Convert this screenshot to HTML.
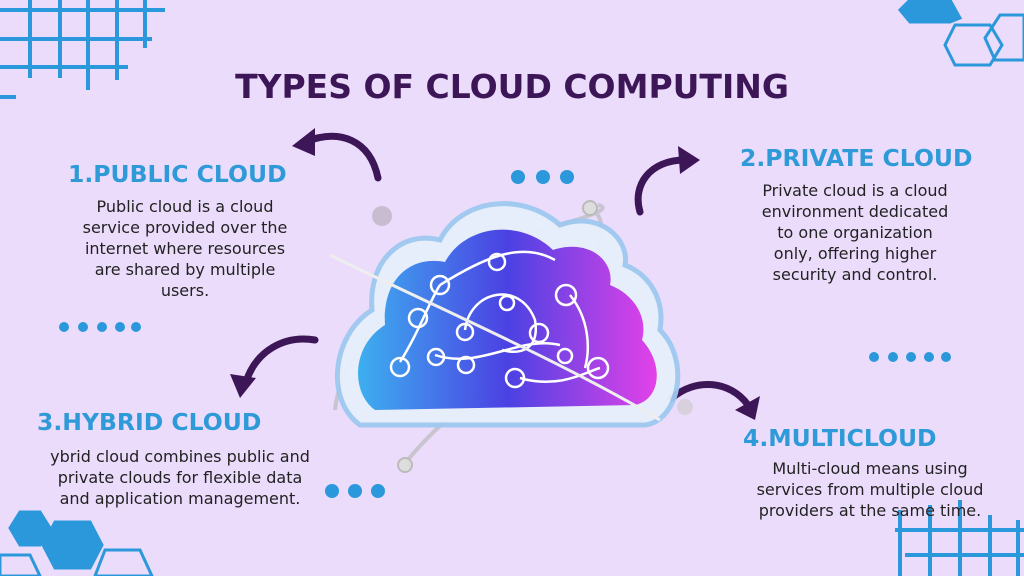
<!DOCTYPE html>
<html><head><meta charset="utf-8"><style>
body{margin:0;width:1024px;height:576px;overflow:hidden;background:#ecdcfc;font-family:"Liberation Sans",sans-serif;position:relative}
h1{position:absolute;margin:0;left:0;width:1024px;top:67px;text-align:center;font-size:33px;color:#3d1657;letter-spacing:0px;font-weight:bold;font-family:"DejaVu Sans",sans-serif}
.h{position:absolute;font-size:23.5px;font-weight:bold;color:#2f9ad8;white-space:nowrap;font-family:"DejaVu Sans",sans-serif}
.p{position:absolute;font-size:16px;line-height:21px;color:#222;text-align:center;white-space:nowrap;font-family:"DejaVu Sans",sans-serif}
</style></head><body>
<svg width="1024" height="576" style="position:absolute;left:0;top:0">
<defs>
<linearGradient id="g" x1="0" x2="1"><stop offset="0" stop-color="#2aa8ee"/><stop offset="0.5" stop-color="#3a2ee0"/><stop offset="1" stop-color="#e22fe6"/></linearGradient>
</defs>
<g stroke="#2a98da" stroke-width="4" fill="none">
<path d="M0 10H165M0 39H152M0 67H128M0 97H16M30 0V78M60 0V78M88 0V90M117 0V80M145 0V48"/>
<path d="M900 576V510M930 576V505M960 576V500M990 576V515M1018 576V520M895 530H1024M905 555H1024"/>
</g>
<g fill="#2a98da" stroke="#2a98da" stroke-width="3">
<polygon points="910,0 950,0 960,18 950,22 910,22 900,10"/>
<polygon points="1000,15 1024,15 1024,60 995,60 985,38" fill="#ecdcfc"/>
<polygon points="955,25 990,25 1002,45 990,65 955,65 945,45" fill="none"/>
<polygon points="20,512 40,512 50,528 40,545 20,545 10,528"/>
<polygon points="55,522 90,522 102,545 90,568 55,568 43,545"/>
<polygon points="105,550 140,550 152,576 95,576" fill="none"/>
<polygon points="0,555 30,555 40,576 0,576" fill="none"/>
</g>
<g fill="#2a98da">
<circle cx="518" cy="177" r="7"/><circle cx="543" cy="177" r="7"/><circle cx="567" cy="177" r="7"/>
<circle cx="64" cy="327" r="5"/><circle cx="83" cy="327" r="5"/><circle cx="102" cy="327" r="5"/><circle cx="120" cy="327" r="5"/><circle cx="136" cy="327" r="5"/>
<circle cx="874" cy="357" r="5"/><circle cx="893" cy="357" r="5"/><circle cx="911" cy="357" r="5"/><circle cx="929" cy="357" r="5"/><circle cx="946" cy="357" r="5"/>
<circle cx="332" cy="491" r="7"/><circle cx="355" cy="491" r="7"/><circle cx="378" cy="491" r="7"/>
</g>
<g fill="none" stroke="#3d1657" stroke-width="7" stroke-linecap="round">
<path d="M378 178C370 140 340 128 305 142"/><path d="M640 212C632 185 650 160 685 160"/>
<path d="M315 340C285 335 255 350 245 385"/><path d="M672 398C695 378 730 380 748 405"/>
</g>
<g fill="#3d1657">
<polygon points="292,146 315,128 315,156"/><polygon points="700,160 678,146 680,174"/>
<polygon points="240,398 230,374 256,378"/><polygon points="755,420 735,410 760,396"/>
</g>
<path d="M590 208C630 230 560 330 470 400C420 440 400 470 405 465" fill="none" stroke="#c8c4d0" stroke-width="4"/>
<path d="M335 410C340 350 420 260 500 240C560 225 620 210 598 205" fill="none" stroke="#c8c4d0" stroke-width="4"/>
<path d="M360 425C325 400 332 335 372 310C368 262 400 230 440 240C460 200 520 190 560 225C600 210 630 240 625 265C650 275 665 300 660 330C690 360 680 420 645 425Z" fill="#e6f0fb" stroke="#9fc8ef" stroke-width="5" opacity="0.95"/>
<path d="M375 410C350 392 352 345 385 325C382 280 410 255 445 262C465 225 520 218 553 250C590 238 615 262 610 285C635 295 648 318 642 340C665 365 660 400 635 405Z" fill="url(#g)" opacity="0.9"/>
<g fill="none" stroke="#fff" stroke-width="2.5">
<path d="M400 362C420 330 430 300 440 285M440 285C480 260 520 240 555 260M465 330C470 290 520 280 535 320C540 350 520 355 502 350M435 355C480 370 520 335 560 345M520 378C560 390 590 370 600 368M570 295C590 320 590 350 585 368"/>
<path d="M330 255C420 300 560 360 660 420" stroke="#eee" stroke-width="3"/>
</g>
<g fill="none" stroke="#fff" stroke-width="2.5">
<circle cx="400" cy="367" r="9"/><circle cx="418" cy="318" r="9"/><circle cx="440" cy="285" r="9"/><circle cx="497" cy="262" r="8"/><circle cx="465" cy="332" r="8"/><circle cx="507" cy="303" r="7"/><circle cx="539" cy="333" r="9"/><circle cx="566" cy="295" r="10"/><circle cx="515" cy="378" r="9"/><circle cx="565" cy="356" r="7"/><circle cx="598" cy="368" r="10"/><circle cx="436" cy="357" r="8"/><circle cx="466" cy="365" r="8"/>
</g>
<circle cx="590" cy="208" r="7" fill="#ddd" stroke="#bbb" stroke-width="2"/>
<circle cx="405" cy="465" r="7" fill="#ddd" stroke="#bbb" stroke-width="2"/>
<circle cx="685" cy="407" r="8" fill="#d8d0dc"/>
<circle cx="382" cy="216" r="10" fill="#c8bcd0"/>
</svg>
<h1>TYPES OF CLOUD COMPUTING</h1>
<div class="h" style="left:68px;top:160px">1.PUBLIC CLOUD</div>
<div class="p" style="left:45px;top:196px;width:280px">Public cloud is a cloud<br>service provided over the<br>internet where resources<br>are shared by multiple<br>users.</div>
<div class="h" style="left:740px;top:144px">2.PRIVATE CLOUD</div>
<div class="p" style="left:725px;top:180px;width:260px">Private cloud is a cloud<br>environment dedicated<br>to one organization<br>only, offering higher<br>security and control.</div>
<div class="h" style="left:37px;top:408px">3.HYBRID CLOUD</div>
<div class="p" style="left:20px;top:446px;width:320px">ybrid cloud combines public and<br>private clouds for flexible data<br>and application management.</div>
<div class="h" style="left:743px;top:424px">4.MULTICLOUD</div>
<div class="p" style="left:730px;top:458px;width:280px">Multi-cloud means using<br>services from multiple cloud<br>providers at the same time.</div>
</body></html>
